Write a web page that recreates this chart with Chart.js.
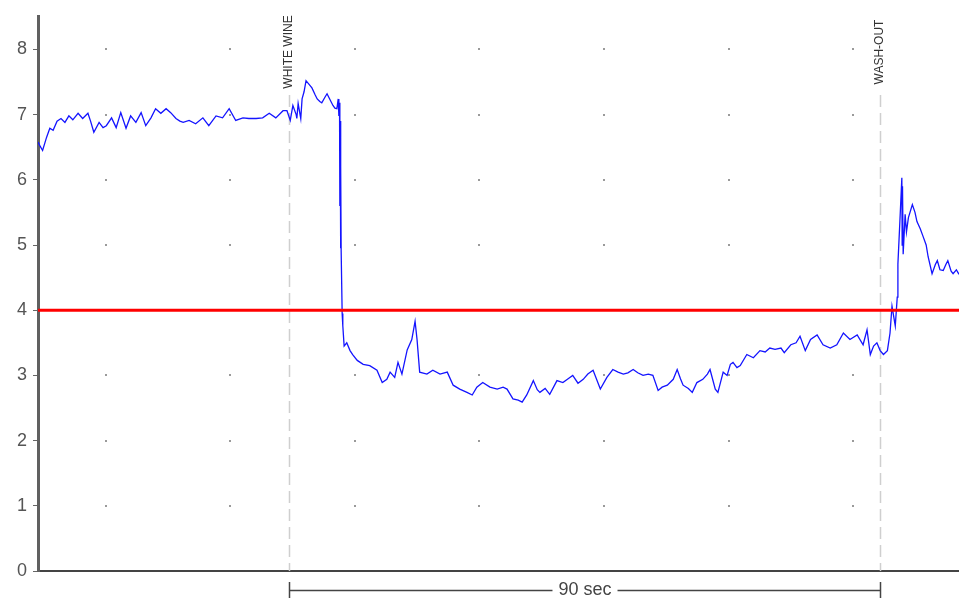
<!DOCTYPE html>
<html>
<head>
<meta charset="utf-8">
<script src="https://cdn.jsdelivr.net/npm/chart.js@4/dist/chart.umd.min.js"></script>
<style>
  html, body { margin: 0; padding: 0; background: #fff; }
  #wrap { width: 959px; height: 599px; position: relative; }
</style>
</head>
<body>
<div id="wrap"><canvas id="c" width="959" height="599"></canvas></div>
<script>
// Time in seconds, relative to the white wine addition
const times = [
  -38.2, -37.9, -37.5, -36.9, -36.4, -35.9, -35.3, -34.7, -34.1, -33.5, -32.9, -32.1,
  -31.4, -30.6, -30.2, -29.7, -28.9, -28.3, -27.8, -27.0, -26.3, -25.6, -24.8, -24.1,
  -23.3, -22.5, -21.8, -21.0, -20.3, -19.5, -18.7, -18.0, -17.2, -16.6, -16.1, -15.2,
  -14.2, -13.1, -12.2, -11.1, -10.1, -9.1, -8.1, -7.0, -6.1, -5.0, -4.0, -3.0,
  -2.0, -0.9, -0.3, 0.2, 0.6, 1.1, 1.2, 1.4, 1.8, 2.0, 2.3, 2.6,
  3.0, 3.5, 4.0, 4.3, 4.7, 5.0, 5.5, 5.8, 6.2, 6.7, 7.0, 7.3,
  7.5, 7.6, 7.7, 7.75, 7.8, 7.85, 7.9, 7.95, 8.1, 8.2, 8.4, 8.8, 9.3, 9.7, 10.4, 11.3,
  12.3, 13.4, 14.2, 14.9, 15.4, 16.1, 16.6, 17.2, 18.0, 18.7, 19.2, 19.5,
  19.9, 21.0, 21.9, 23.0, 24.1, 25.0, 26.0, 27.1, 27.9, 28.6, 29.5, 30.6,
  31.7, 32.6, 33.2, 34.1, 34.9, 35.5, 36.2, 37.2, 37.8, 38.2, 39.0, 39.7,
  40.8, 41.7, 42.5, 43.2, 44.0, 44.8, 45.5, 46.3, 47.4, 48.4, 49.3, 50.1,
  50.9, 51.6, 52.4, 53.1, 53.9, 54.7, 55.4, 56.2, 56.8, 57.6, 58.5, 59.1,
  59.6, 60.0, 60.8, 61.4, 62.1, 63.0, 63.7, 64.1, 64.9, 65.3, 66.1, 66.7,
  67.2, 67.6, 68.2, 68.7, 69.7, 70.7, 71.7, 72.5, 73.2, 74.0, 74.9, 75.4,
  76.4, 77.2, 77.8, 78.6, 79.4, 80.4, 81.3, 82.4, 83.4, 84.4, 85.4, 86.5,
  87.4, 88.0, 88.5, 89.0, 89.5, 90.0, 90.5, 91.1, 91.5, 91.8, 92.3, 92.6,
  92.7, 93.0, 93.3, 93.35, 93.4, 93.5, 93.8, 94.0, 94.3, 94.9, 95.3, 95.6, 96.1, 96.5,
  97.0, 97.3, 97.9, 98.4, 98.7, 99.1, 99.6, 100.0, 100.3, 100.8, 101.1, 101.6,
  102.0
];

// Measured pH
const phValues = [
  6.58, 6.52, 6.45, 6.65, 6.79, 6.76, 6.90, 6.94, 6.88, 6.98, 6.92, 7.02,
  6.94, 7.02, 6.90, 6.73, 6.88, 6.80, 6.83, 6.95, 6.80, 7.03, 6.79, 6.98,
  6.88, 7.03, 6.83, 6.95, 7.09, 7.02, 7.09, 7.03, 6.94, 6.90, 6.88, 6.91,
  6.86, 6.95, 6.83, 6.98, 6.95, 7.09, 6.91, 6.95, 6.94, 6.94, 6.95, 7.02,
  6.95, 7.06, 7.06, 6.91, 7.14, 7.00, 6.94, 7.17, 6.94, 7.24, 7.35, 7.52,
  7.47, 7.41, 7.30, 7.24, 7.20, 7.18, 7.27, 7.32, 7.24, 7.14, 7.10, 7.09,
  7.24, 6.98, 7.18, 5.60, 6.90, 4.95, 6.20, 4.90, 3.95, 3.76, 3.45, 3.50, 3.38, 3.32, 3.23, 3.17,
  3.15, 3.08, 2.89, 2.94, 3.05, 2.97, 3.20, 3.02, 3.39, 3.55, 3.83, 3.55,
  3.05, 3.02, 3.08, 3.02, 3.05, 2.85, 2.79, 2.74, 2.70, 2.82, 2.89, 2.82,
  2.79, 2.82, 2.79, 2.64, 2.62, 2.59, 2.70, 2.92, 2.78, 2.74, 2.80, 2.71,
  2.92, 2.89, 2.95, 3.00, 2.88, 2.94, 3.02, 3.08, 2.79, 2.97, 3.09, 3.05,
  3.02, 3.04, 3.09, 3.04, 3.00, 3.02, 3.00, 2.77, 2.82, 2.85, 2.94, 3.09,
  2.95, 2.85, 2.80, 2.74, 2.89, 2.94, 3.02, 3.09, 2.79, 2.74, 3.05, 3.00,
  3.17, 3.20, 3.12, 3.15, 3.32, 3.27, 3.38, 3.36, 3.42, 3.40, 3.42, 3.35,
  3.47, 3.50, 3.60, 3.38, 3.55, 3.62, 3.47, 3.42, 3.47, 3.65, 3.55, 3.62,
  3.47, 3.70, 3.32, 3.45, 3.50, 3.38, 3.32, 3.38, 3.65, 4.06, 3.76, 4.20,
  4.71, 5.36, 6.03, 5.00, 5.90, 4.86, 5.47, 5.20, 5.42, 5.62, 5.50, 5.36, 5.25, 5.14,
  5.00, 4.82, 4.56, 4.70, 4.76, 4.62, 4.61, 4.70, 4.76, 4.60, 4.56, 4.62,
  4.55
];

const yTickValues = [0, 1, 2, 3, 4, 5, 6, 7, 8];
const gridTimes = [-27.9, -8.9, 10.1, 29.0, 48.0, 67.0, 85.9];
const eventTimes = [0, 90];
const eventLabels = ['WHITE WINE', 'WASH-OUT'];
const thresholdPh = 4;
const scaleBarStart = 0;
const scaleBarEnd = 90;
const scaleBarLabel = '90 sec';
const timeMin = -38.2;
const timeMax = 102.0;

const phPoints = times.map((t, i) => ({ x: t, y: phValues[i] }));
const thresholdPoints = [{ x: timeMin, y: thresholdPh }, { x: timeMax, y: thresholdPh }];

// Dotted grid, event markers and their labels, drawn under the traces
const backdropPlugin = {
  id: 'backdrop',
  beforeDatasetsDraw(chart) {
    const { ctx, chartArea, scales: { x, y } } = chart;
    ctx.save();
    ctx.fillStyle = '#9a9a9a';
    gridTimes.forEach(t => {
      const px = Math.round(x.getPixelForValue(t));
      for (let v = 1; v <= 8; v++) {
        const py = Math.round(y.getPixelForValue(v));
        ctx.fillRect(px - 1, py - 1, 2, 2);
      }
    });
    ctx.strokeStyle = '#cfcfcf';
    ctx.lineWidth = 1.5;
    ctx.setLineDash([12, 6]);
    eventTimes.forEach(t => {
      const px = Math.round(x.getPixelForValue(t)) + 0.5;
      ctx.beginPath();
      ctx.moveTo(px, 95);
      ctx.lineTo(px, chartArea.bottom);
      ctx.stroke();
    });
    ctx.setLineDash([]);
    ctx.fillStyle = '#333';
    ctx.font = '12px "Liberation Sans", Arial, sans-serif';
    ctx.textAlign = 'center';
    ctx.textBaseline = 'middle';
    eventTimes.forEach((t, i) => {
      const px = x.getPixelForValue(t);
      ctx.save();
      ctx.translate(px, 52);
      ctx.rotate(-Math.PI / 2);
      ctx.fillText(eventLabels[i], 0, 0);
      ctx.restore();
    });
    ctx.restore();
  },
  afterDraw(chart) {
    // Time scale bar under the x axis
    const { ctx, scales: { x } } = chart;
    const x0 = Math.round(x.getPixelForValue(scaleBarStart)) + 0.5;
    const x1 = Math.round(x.getPixelForValue(scaleBarEnd)) + 0.5;
    const yBar = 590.5;
    ctx.save();
    ctx.font = '18px "Liberation Sans", Arial, sans-serif';
    ctx.fillStyle = '#444';
    ctx.textAlign = 'center';
    ctx.textBaseline = 'middle';
    const mid = (x0 + x1) / 2;
    const w = ctx.measureText(scaleBarLabel).width;
    ctx.fillText(scaleBarLabel, mid, yBar);
    ctx.strokeStyle = '#444';
    ctx.lineWidth = 1.5;
    ctx.beginPath();
    ctx.moveTo(x0, yBar); ctx.lineTo(mid - w / 2 - 6, yBar);
    ctx.moveTo(mid + w / 2 + 6, yBar); ctx.lineTo(x1, yBar);
    ctx.moveTo(x0, 582); ctx.lineTo(x0, 598);
    ctx.moveTo(x1, 582); ctx.lineTo(x1, 598);
    ctx.stroke();
    ctx.restore();
  }
};

new Chart(document.getElementById('c'), {
  type: 'line',
  data: {
    datasets: [
      {
        label: 'threshold',
        data: thresholdPoints,
        borderColor: '#ff0000',
        borderWidth: 3,
        pointRadius: 0,
        order: 0
      },
      {
        label: 'pH',
        data: phPoints,
        borderColor: '#1414ff',
        borderWidth: 1.3,
        pointRadius: 0,
        tension: 0,
        order: 1
      }
    ]
  },
  options: {
    responsive: false,
    animation: false,
    devicePixelRatio: 1,
    layout: { padding: { top: 10, right: 0, bottom: 0, left: 0 } },
    plugins: { legend: { display: false }, tooltip: { enabled: false } },
    scales: {
      x: {
        type: 'linear',
        min: timeMin,
        max: timeMax,
        ticks: { display: false },
        grid: { display: false },
        border: { display: true, color: '#444', width: 2 },
        afterFit(scale) { scale.height = 28; }
      },
      y: {
        min: 0,
        max: 8.5,
        afterBuildTicks(scale) { scale.ticks = yTickValues.map(v => ({ value: v })); },
        ticks: {
          color: '#555',
          font: { family: '"Liberation Sans", Arial, sans-serif', size: 18 },
          padding: 6
        },
        grid: { display: true, drawOnChartArea: false, drawTicks: true, tickLength: 5, color: '#666' },
        border: { display: true, color: '#606060', width: 3 },
        afterFit(scale) { scale.width = 38; }
      }
    }
  },
  plugins: [backdropPlugin]
});
</script>
</body>
</html>
